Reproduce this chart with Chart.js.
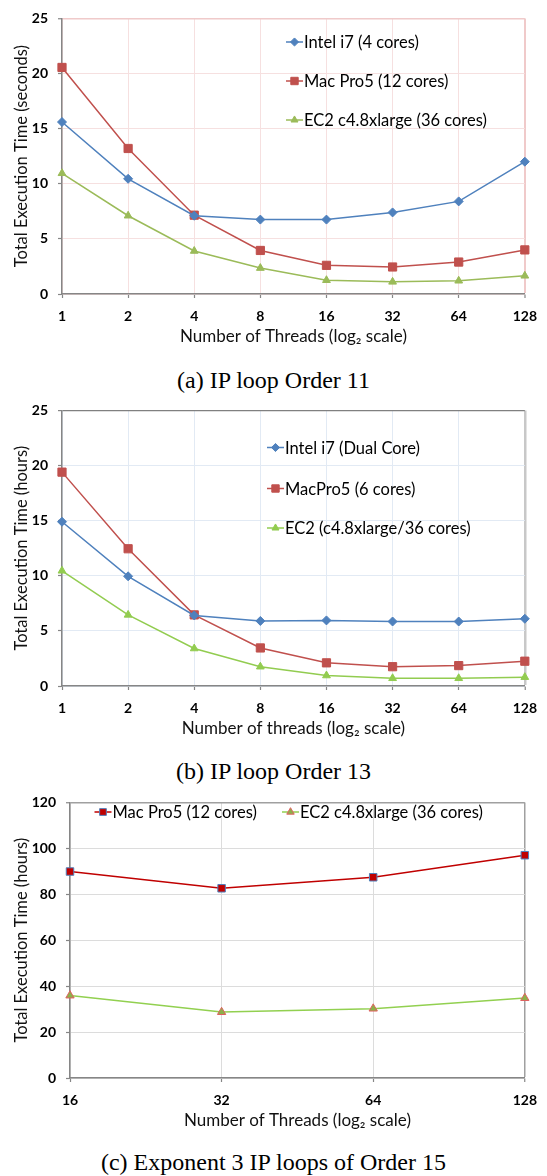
<!DOCTYPE html>
<html>
<head>
<meta charset="utf-8">
<script src="https://cdn.jsdelivr.net/npm/chart.js@4/dist/chart.umd.min.js"></script>
<style>
  html, body { margin: 0; padding: 0; background: #fff; }
  #page { position: relative; width: 547px; height: 1176px; overflow: hidden; }
  canvas { position: absolute; left: 0; }
  .cap { position: absolute; left: 0; width: 547px; text-align: center;
         font-family: "Liberation Serif", "DejaVu Serif", serif; font-size: 24px; line-height: 26px; color: #000; }
</style>
</head>
<body>
<div id="page">
  <canvas id="c1" width="547" height="350" style="top:0px"></canvas>
  <div class="cap" style="top:367px">(a) IP loop Order 11</div>
  <canvas id="c2" width="547" height="350" style="top:392px"></canvas>
  <div class="cap" style="top:758px">(b) IP loop Order 13</div>
  <canvas id="c3" width="547" height="350" style="top:784px"></canvas>
  <div class="cap" style="top:1149px">(c) Exponent 3 IP loops of Order 15</div>
</div>
<script>
// ---- data ----
const threadsAB = ['1', '2', '4', '8', '16', '32', '64', '128'];
const aIntel = [15.6, 10.45, 7.1, 6.75, 6.75, 7.4, 8.4, 12.0];
const aMac   = [20.55, 13.2, 7.15, 3.95, 2.6, 2.45, 2.9, 4.0];
const aEc2   = [10.95, 7.1, 3.9, 2.35, 1.25, 1.1, 1.2, 1.65];
const bIntel = [14.9, 9.95, 6.4, 5.9, 5.95, 5.85, 5.85, 6.1];
const bMac   = [19.4, 12.45, 6.45, 3.45, 2.1, 1.75, 1.85, 2.25];
const bEc2   = [10.45, 6.45, 3.4, 1.75, 0.95, 0.7, 0.7, 0.8];
const threadsC = ['16', '32', '64', '128'];
const cMac = [89.9, 82.6, 87.4, 97.0];
const cEc2 = [35.9, 28.7, 30.2, 34.8];

const labelsA = ['Intel i7 (4 cores)', 'Mac Pro5 (12 cores)', 'EC2 c4.8xlarge (36 cores)'];
const labelsB = ['Intel i7 (Dual Core)', 'MacPro5 (6 cores)', 'EC2 (c4.8xlarge/36 cores)'];
const labelsC = ['Mac Pro5 (12 cores)', 'EC2 c4.8xlarge (36 cores)'];

const FONT = 'Lato, "Open Sans", "DejaVu Sans", sans-serif';

// custom in-plot legend
const inlineLegend = {
  id: 'inlineLegend',
  afterDraw(chart, args, opts) {
    if (!opts || !opts.items) return;
    const ctx = chart.ctx;
    ctx.save();
    ctx.font = opts.font;
    ctx.textBaseline = 'middle';
    ctx.textAlign = 'left';
    chart.data.datasets.forEach((ds, i) => {
      const it = opts.items[i];
      if (!it) return;
      ctx.strokeStyle = ds.borderColor;
      ctx.lineWidth = ds.borderWidth;
      ctx.beginPath();
      ctx.moveTo(it.x, it.y);
      ctx.lineTo(it.x + opts.lineLen, it.y);
      ctx.stroke();
      ctx.fillStyle = ds.pointBackgroundColor;
      ctx.strokeStyle = ds.pointBorderColor;
      ctx.lineWidth = ds.pointBorderWidth;
      Chart.helpers.drawPoint(ctx, {pointStyle: ds.pointStyle, radius: ds.pointRadius * opts.pointScale, borderWidth: ds.pointBorderWidth, rotation: 0},
        it.x + opts.lineLen / 2, it.y);
      ctx.fillStyle = '#000';
      ctx.fillText(ds.label, it.x + opts.lineLen + 1, it.y + 1);
    });
    ctx.restore();
  }
};

function ds(label, data, line, fill, border, style, radius, bw) {
  return {
    label, data,
    borderColor: line, backgroundColor: line, borderWidth: 1.5,
    pointStyle: style, pointRadius: radius, pointHoverRadius: radius,
    pointBackgroundColor: fill, pointBorderColor: border, pointBorderWidth: bw,
    tension: 0, fill: false
  };
}

function makeChart(id, labels, datasets, cfg) {
  const maxY = cfg.maxY;
  return new Chart(document.getElementById(id), {
    type: 'line',
    data: { labels, datasets },
    plugins: [inlineLegend],
    options: {
      responsive: false,
      animation: false,
      devicePixelRatio: 1,
      layout: { padding: { top: 12, right: 21, left: 0, bottom: 0 } },
      plugins: {
        legend: { display: false },
        tooltip: { enabled: false },
        inlineLegend: cfg.legend
      },
      scales: {
        x: {
          type: 'category',
          offset: false,
          afterFit: s => { s.height = 56; },
          border: { color: '#868686', width: 1.5 },
          grid: {
            color: c => (c.index === labels.length - 1 ? cfg.edgeX : cfg.grid),
            lineWidth: c => (c.index === labels.length - 1 ? cfg.edgeXW : 1),
            tickLength: 4, tickColor: '#868686', tickWidth: 1.2, drawTicks: true
          },
          ticks: { color: '#000', font: { family: FONT, size: 14, weight: 'bold' }, padding: 10, maxRotation: 0, autoSkip: false },
          title: { display: true, text: cfg.xTitle, color: '#111', font: { family: FONT, size: 17 }, padding: { top: 0, bottom: 3 } }
        },
        y: {
          min: 0, max: maxY,
          afterFit: s => { s.width = cfg.left; },
          border: { color: '#868686', width: 1.5 },
          grid: {
            color: c => (c.tick && c.tick.value === maxY ? cfg.edgeY : cfg.grid),
            lineWidth: c => (c.tick && c.tick.value === maxY ? cfg.edgeYW : 1),
            tickLength: 4, tickColor: '#868686', tickWidth: 1.2
          },
          ticks: { stepSize: cfg.step, color: '#000', font: { family: FONT, size: 14, weight: 'bold' }, padding: 10 },
          title: { display: true, text: cfg.yTitle, color: '#111', font: { family: FONT, size: 16.5 }, padding: { top: 12, bottom: 0 } }
        }
      }
    }
  });
}

const BLUE = '#4F81BD', RED = '#C0504D', GREEN = '#9BBB59';

makeChart('c1', threadsAB, [
  ds(labelsA[0], aIntel, BLUE, BLUE, BLUE, 'rectRot', 4.5, 1),
  ds(labelsA[1], aMac, RED, RED, RED, 'rect', 5.8, 1),
  ds(labelsA[2], aEc2, GREEN, GREEN, GREEN, 'triangle', 4.5, 1)
], {
  maxY: 25, step: 5, left: 62,
  grid: '#F6E0E0', edgeX: '#F0CACA', edgeXW: 2, edgeY: '#F0CACA', edgeYW: 1.5,
  xTitle: 'Number of Threads (log\u2082 scale)',
  yTitle: 'Total Execution Time (seconds)',
  legend: { font: '16.5px ' + FONT, lineLen: 17, pointScale: 0.9,
    items: [{x: 286, y: 42}, {x: 286, y: 81}, {x: 286, y: 120}] }
});

makeChart('c2', threadsAB, [
  ds(labelsB[0], bIntel, BLUE, BLUE, BLUE, 'rectRot', 4.5, 1),
  ds(labelsB[1], bMac, RED, RED, RED, 'rect', 5.8, 1),
  ds(labelsB[2], bEc2, '#92CC50', '#92CC50', '#92CC50', 'triangle', 4.5, 1)
], {
  maxY: 25, step: 5, left: 62,
  grid: '#E2EAF4', edgeX: '#C8C8C8', edgeXW: 2.5, edgeY: '#808080', edgeYW: 1.2,
  xTitle: 'Number of threads (log\u2082 scale)',
  yTitle: 'Total Execution Time (hours)',
  legend: { font: '16.5px ' + FONT, lineLen: 17, pointScale: 0.9,
    items: [{x: 267, y: 55.5}, {x: 267, y: 96.5}, {x: 267, y: 136}] }
});

makeChart('c3', threadsC, [
  ds(labelsC[0], cMac, '#C00000', '#C00000', BLUE, 'rect', 5.3, 1),
  ds(labelsC[1], cEc2, '#92D050', '#8DB04A', '#E06060', 'triangle', 4.8, 1)
], {
  maxY: 120, step: 20, left: 70,
  grid: '#DCDCDC', edgeX: '#A0A0A0', edgeXW: 1.5, edgeY: '#A0A0A0', edgeYW: 1.5,
  xTitle: 'Number of Threads (log\u2082 scale)',
  yTitle: 'Total Execution Time (hours)',
  legend: { font: '16.5px ' + FONT, lineLen: 17, pointScale: 0.9,
    items: [{x: 94.5, y: 28}, {x: 282, y: 28}] }
});
</script>
</body>
</html>
